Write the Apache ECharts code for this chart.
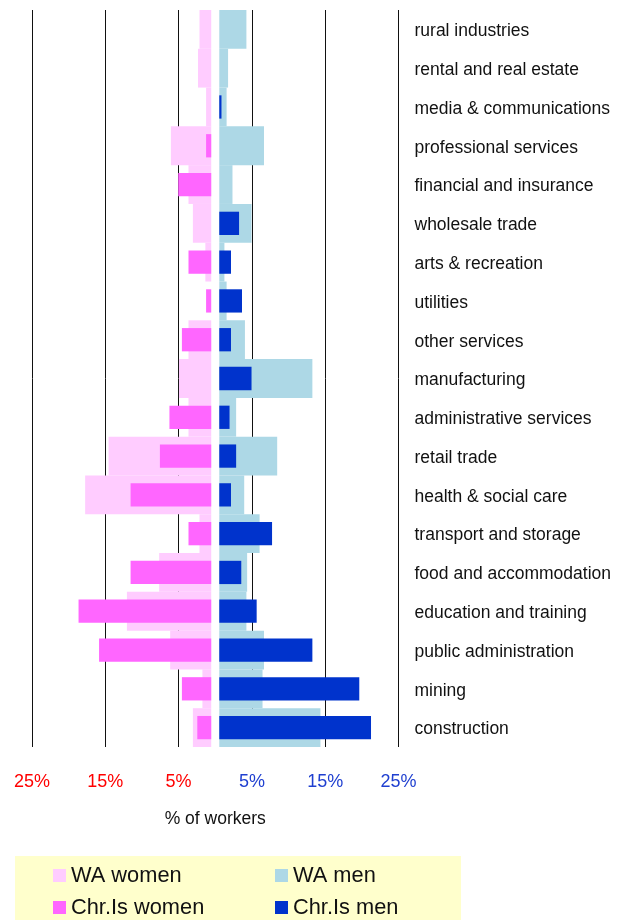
<!DOCTYPE html>
<html>
<head>
<meta charset="utf-8">
<script src="https://cdn.jsdelivr.net/npm/echarts@6/dist/echarts.min.js"></script>
<style>
  html, body { margin: 0; padding: 0; background: #ffffff; }
  #chart { width: 621px; height: 920px; }
</style>
</head>
<body>
<div id="chart"></div>
<script>
// Industries, listed top to bottom
const industries = [
  'rural industries', 'rental and real estate', 'media & communications',
  'professional services', 'financial and insurance', 'wholesale trade',
  'arts & recreation', 'utilities', 'other services', 'manufacturing',
  'administrative services', 'retail trade', 'health & social care',
  'transport and storage', 'food and accommodation', 'education and training',
  'public administration', 'mining', 'construction'
];

// Share of workers in each industry (%)
const waWomen = [1.6, 1.8, 0.7, 5.5, 3.1, 2.5, 0.8, 0.0, 3.1, 4.4, 3.1, 14.0, 17.2, 1.6, 7.1, 11.5, 5.6, 1.2, 2.5];
const chrWomen = [0.0, 0.0, 0.0, 0.7, 4.5, 0.0, 3.1, 0.7, 4.0, 0.0, 5.7, 7.0, 11.0, 3.1, 11.0, 18.1, 15.3, 4.0, 1.9];
const waMen = [3.7, 1.2, 1.0, 6.1, 1.8, 4.4, 0.7, 1.0, 3.5, 12.7, 2.3, 7.9, 3.4, 5.5, 3.8, 3.7, 6.1, 5.9, 13.8];
const chrMen = [0.0, 0.0, 0.3, 0.0, 0.0, 2.7, 1.6, 3.1, 1.6, 4.4, 1.4, 2.3, 1.6, 7.2, 3.0, 5.1, 12.7, 19.1, 20.7];

// Tick values of the shared axis (women to the left, men to the right)
const tickValues = [-25, -15, -5, 5, 15, 25];
const axisTitle = '% of workers';

// Half of the blank strip between the two halves, in axis units
const halfGap = 0.55;

const font = "'Liberation Sans', Arial, Helvetica, sans-serif";
const colors = {
  waWomen: '#FFCCFF',
  chrWomen: '#FF66FF',
  waMen: '#ADD8E6',
  chrMen: '#0033CC'
};

const neg = arr => arr.map(v => -v);
const fill = (n, v) => Array.from({ length: n }, () => v);

// Invisible spacer bars that open the gap around zero
function spacer(stack, axisIndex, value) {
  return {
    type: 'bar', stack: stack, yAxisIndex: axisIndex,
    data: fill(industries.length, value),
    itemStyle: { color: 'rgba(0,0,0,0)' },
    silent: true, tooltip: { show: false },
    barWidth: axisIndex === 0 ? '100%' : '60%'
  };
}

function visible(name, stack, axisIndex, data, color) {
  return {
    name: name, type: 'bar', stack: stack, yAxisIndex: axisIndex,
    data: data, itemStyle: { color: color },
    barWidth: axisIndex === 0 ? '100%' : '60%'
  };
}

const chart = echarts.init(document.getElementById('chart'), null, { renderer: 'canvas' });

chart.setOption({
  animation: false,
  backgroundColor: '#ffffff',
  textStyle: { fontFamily: font },
  graphic: [{
    type: 'rect', silent: true, z: -1,
    shape: { x: 15, y: 856, width: 446, height: 70 },
    style: { fill: '#FFFFCC' }
  }],
  grid: { left: 32, right: 222.5, top: 10, height: 737 },
  xAxis: {
    type: 'value',
    min: tickValues[0],
    max: tickValues[tickValues.length - 1],
    interval: 10,
    axisLine: { show: false },
    axisTick: { show: false },
    splitLine: { show: true, lineStyle: { color: '#111111', width: 1 } },
    axisLabel: {
      margin: 26,
      fontSize: 18,
      fontFamily: font,
      formatter: v => Math.abs(v) + '%',
      color: v => (v < 0 ? '#FF0000' : '#1F3FD0')
    },
    name: axisTitle,
    nameLocation: 'middle',
    nameGap: 63,
    nameTextStyle: { fontSize: 17.5, color: '#111111', fontFamily: font }
  },
  yAxis: [
    {
      type: 'category', data: industries, inverse: true, position: 'right',
      axisLine: { show: false }, axisTick: { show: false }, splitLine: { show: false },
      axisLabel: {
        margin: 16,
        formatter: v => '{c|' + v + '}',
        rich: {
          c: { fontSize: 17.5, color: '#111111', fontFamily: font, padding: [4, 0, 0, 0] }
        }
      }
    },
    {
      type: 'category', data: industries, inverse: true, show: false
    }
  ],
  legend: [
    {
      orient: 'vertical', left: 53, top: 864.5, padding: 0, itemGap: 10,
      itemWidth: 13, itemHeight: 13, icon: 'rect', selectedMode: false,
      textStyle: { fontSize: 21.8, color: '#111111', fontFamily: font },
      data: ['WA women', 'Chr.Is women']
    },
    {
      orient: 'vertical', left: 275, top: 864.5, padding: 0, itemGap: 10,
      itemWidth: 13, itemHeight: 13, icon: 'rect', selectedMode: false,
      textStyle: { fontSize: 21.8, color: '#111111', fontFamily: font },
      data: ['WA men', 'Chr.Is men']
    }
  ],
  series: [
    spacer('wa', 0, -halfGap),
    spacer('wa', 0, halfGap),
    visible('WA women', 'wa', 0, neg(waWomen), colors.waWomen),
    visible('WA men', 'wa', 0, waMen, colors.waMen),
    spacer('chr', 1, -halfGap),
    spacer('chr', 1, halfGap),
    visible('Chr.Is women', 'chr', 1, neg(chrWomen), colors.chrWomen),
    visible('Chr.Is men', 'chr', 1, chrMen, colors.chrMen)
  ]
});
</script>
</body>
</html>
